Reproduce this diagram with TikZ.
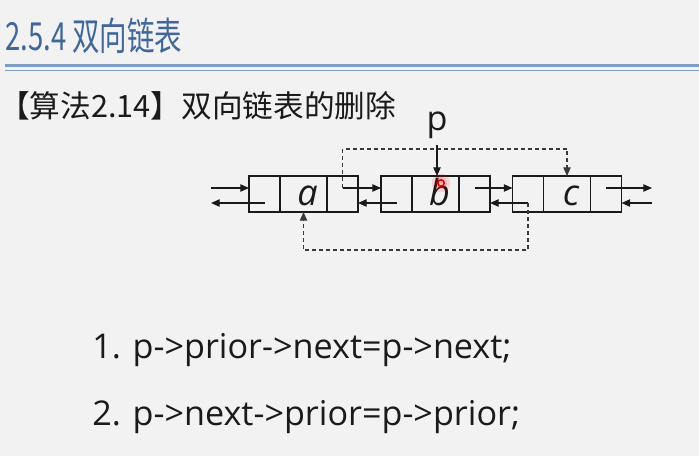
\documentclass[tikz,border=0pt]{standalone}
\usepackage{fontspec}
\setmainfont{Open Sans}
\newfontfamily\cjk{Noto Sans CJK SC}
\usetikzlibrary{arrows.meta,positioning}
\definecolor{bg}{HTML}{F2F2F2}
\definecolor{titleblue}{HTML}{41679A}
\definecolor{rulecol}{HTML}{7F9CC2}
\definecolor{ink}{HTML}{1A1A1A}
\definecolor{dashcol}{HTML}{3A3A3A}
\begin{document}
\begin{tikzpicture}[x=0.75pt,y=-0.75pt,
  cell/.style={draw=ink,line width=0.9pt,minimum height=27pt,inner sep=0pt,outer sep=0pt},
  side/.style={cell,minimum width=23.25pt},
  mid/.style={cell,minimum width=35.25pt,font=\fontsize{27pt}{27pt}\selectfont\itshape,text=ink,text height=16.5pt,text depth=0pt},
  ptr/.style={draw=ink,line width=0.9pt,-{Triangle[length=6.5pt,width=5.5pt]}},
  dptr/.style={draw=dashcol,line width=0.9pt,dash pattern=on 3pt off 2.25pt,-{Triangle[length=6.5pt,width=5.5pt]}},
  txt/.style={anchor=base west,inner sep=0pt,text=ink,font=\fontsize{25.6pt}{25.6pt}\selectfont},
]
\fill[bg] (0,0) rectangle (699,456);
\useasboundingbox (0,0) rectangle (699,456);

% title and rules
\node[anchor=base west,inner sep=0pt,text=titleblue,font=\cjk\fontsize{29pt}{29pt}\selectfont] (title) at (5,51) {\scalebox{0.71}[1]{2.5.4 双向链表}};
\draw[rulecol,line width=2.25pt] (5,65.7) -- (699,65.7);
\draw[rulecol,line width=0.75pt] (5,71) -- (699,71);

% heading
\node[anchor=base west,inner sep=0pt,text=ink,font=\cjk\fontsize{23pt}{23pt}\selectfont] (head) at (-1,118) {【算法2.14】双向链表的删除};

% list nodes
\node[side] (a1) at (264.5,194) {};
\node[mid,right=0pt of a1] (a2) {\hspace*{6pt}a};
\node[side,right=0pt of a2] (a3) {};
\node[side] (b1) at (396.5,194) {};
\node[mid,right=0pt of b1] (b2) {\hspace*{6pt}b};
\node[side,right=0pt of b2] (b3) {};
\node[side] (c1) at (528,194) {};
\node[mid,right=0pt of c1] (c2) {\hspace*{6pt}c};
\node[side,right=0pt of c2] (c3) {};

\coordinate (inL) at (211,188);
\coordinate (outL) at (211,203);
\coordinate (outR) at (652,188);
\coordinate (inR) at (652,203);

% solid pointers
\draw[ptr] (inL) -- ([yshift=4.5pt]a1.west);
\draw[ptr] ([yshift=-6.75pt]a1.center) -- (outL);
\draw[ptr] ([yshift=4.5pt]a3.center) -- ([yshift=4.5pt]b1.west);
\draw[ptr] ([yshift=-6.75pt]b1.center) -- ([yshift=-6.75pt]a3.east);
\draw[ptr] ([yshift=4.5pt]b3.center) -- ([yshift=4.5pt]c1.west);
\draw[ptr] ([yshift=-6.75pt]c1.center) -- ([yshift=-6.75pt]b3.east);
\draw[ptr] ([yshift=4.5pt]c3.center) -- (outR);
\draw[ptr] (inR) -- ([yshift=-6.75pt]c3.east);

% dashed new links
\draw[dptr] ([yshift=4.5pt]a3.center) -- ++(0,-39) -| (c2.north);
\draw[dptr] ([yshift=-6.75pt]c1.center) -- ++(0,47) -| (a2.south);

% p pointer
\node[inner sep=0pt,text=ink,font=\fontsize{25.6pt}{25.6pt}\selectfont,anchor=base] (p) at (437,131) {p};
\draw[ptr] ([yshift=-4pt]p.south) -- (p.south |- b2.north);

% laser pointer dot
\fill[red,opacity=0.12] (441,183) circle (7pt);
\fill[red,opacity=0.15] (441,183) circle (4.5pt);
\draw[red!85!black,line width=1.1pt] (441,183) circle (2.4pt);

% steps
\node[txt] (s1) at (92,358) {1. p->prior->next=p->next;};
\node[txt] (s2) at (92,425) {2. p->next->prior=p->prior;};
\end{tikzpicture}
\end{document}
